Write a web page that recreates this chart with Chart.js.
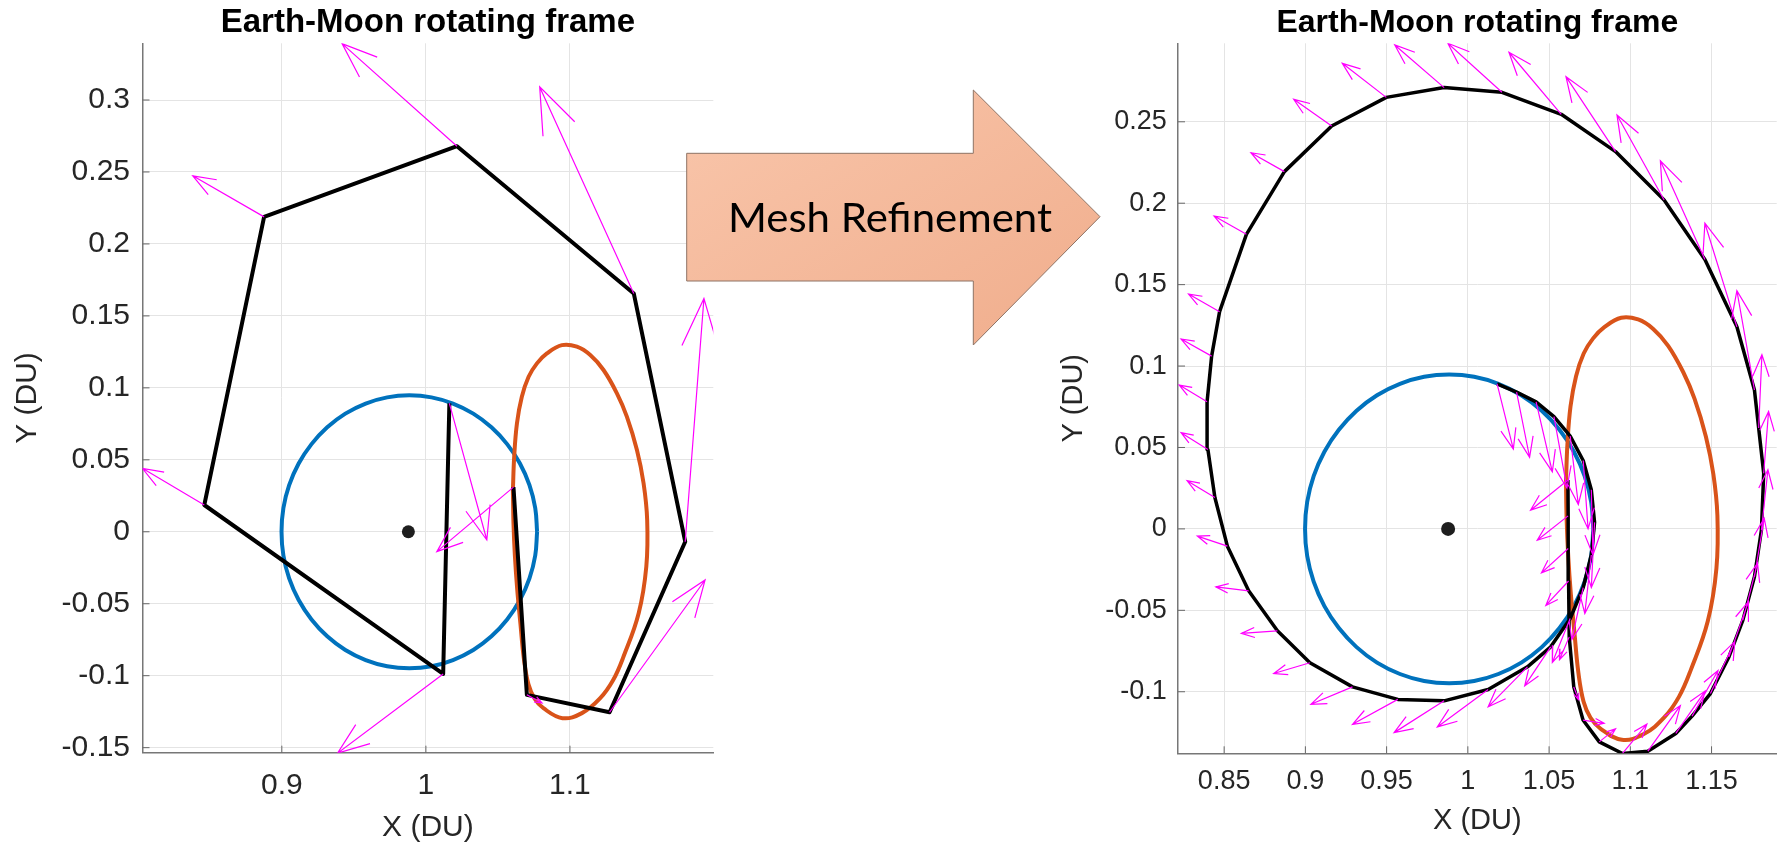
<!DOCTYPE html>
<html>
<head>
<meta charset="utf-8">
<script src="https://cdn.jsdelivr.net/npm/chart.js@4.4.1/dist/chart.umd.min.js"></script>
<style>
  html, body { margin: 0; padding: 0; background: #fff; }
  #wrap { position: relative; width: 1785px; height: 844px; overflow: hidden; }
  #c1 { position: absolute; left: 0; top: 0; }
  #c2 { position: absolute; left: 1040px; top: 0; }
  #arrow { position: absolute; left: 0; top: 0; pointer-events: none; }
</style>
</head>
<body>
<div id="wrap">
  <canvas id="c1" width="730" height="844"></canvas>
  <canvas id="c2" width="745" height="844"></canvas>
  <svg id="arrow" width="1785" height="844">
    <defs>
      <linearGradient id="g" x1="0" y1="0" x2="1" y2="1">
        <stop offset="0" stop-color="#f9c6ab"/>
        <stop offset="1" stop-color="#f0ad8c"/>
      </linearGradient>
    </defs>
    <polygon points="686.7,153.3 973.3,153.3 973.3,90 1100,216.7 973.3,345 973.3,281 686.7,281"
             fill="url(#g)" stroke="#8e7365" stroke-width="1"/>
    <text x="890" y="231.7" text-anchor="middle" font-family="Lato, 'Open Sans', sans-serif"
          font-size="40" textLength="324" lengthAdjust="spacingAndGlyphs" fill="#000">Mesh Refinement</text>
  </svg>
</div>
<script>
Chart.defaults.font.family = "'Liberation Sans', Arial, Helvetica, sans-serif";
Chart.defaults.color = '#262626';

// Moon
const moonX = [0.98785];
const moonY = [0];

// DRO around the Moon (blue)
const droX = [1.0772, 1.0759, 1.0719, 1.0653, 1.0564, 1.0455, 1.0329, 1.0188, 1.0039, 0.9885,
              0.9731, 0.9582, 0.9441, 0.9315, 0.9206, 0.9117, 0.9051, 0.9011, 0.8998, 0.9011,
              0.9051, 0.9117, 0.9206, 0.9315, 0.9441, 0.9582, 0.9731, 0.9885, 1.0039, 1.0188,
              1.0329, 1.0455, 1.0564, 1.0653, 1.0719, 1.0759, 1.0772];
const droY = [0, 0.0165, 0.0324, 0.0474, 0.0609, 0.0726, 0.0821, 0.0891, 0.0934, 0.0948,
              0.0934, 0.0891, 0.0821, 0.0726, 0.0609, 0.0474, 0.0324, 0.0165, 0, -0.0165,
              -0.0324, -0.0474, -0.0609, -0.0726, -0.0821, -0.0891, -0.0934, -0.0948, -0.0934, -0.0891,
              -0.0821, -0.0726, -0.0609, -0.0474, -0.0324, -0.0165, 0];

// target orbit (orange)
const haloX = [1.0604, 1.0608, 1.0618, 1.0634, 1.0656, 1.0680, 1.0712, 1.0755, 1.0816, 1.0948,
               1.1083, 1.1210, 1.1300, 1.1372, 1.1477, 1.1530, 1.1536, 1.1511, 1.1465, 1.1395,
               1.1326, 1.1233, 1.1141, 1.1048, 1.0944, 1.0840, 1.0771, 1.0713, 1.0666, 1.0632,
               1.0613, 1.0604];
const haloY = [0.0290, 0.0060, -0.0170, -0.0400, -0.0636, -0.0880, -0.1060, -0.1160, -0.1226, -0.1295,
               -0.1260, -0.1156, -0.1030, -0.0867, -0.0566, -0.0242, 0.0082, 0.0337, 0.0568, 0.0800,
               0.0962, 0.1124, 0.1228, 0.1286, 0.1297, 0.1239, 0.1170, 0.1077, 0.0938, 0.0753,
               0.0522, 0.0290];

// coarse mesh: nodes and vectors
const coarseX = [1.0163, 1.0120, 0.8462, 0.8877, 1.0216, 1.1443, 1.1800, 1.1275, 1.0701, 1.0608];
const coarseY = [0.0892, -0.0988, 0.0186, 0.2188, 0.2679, 0.1656, -0.0069, -0.1254, -0.1133, 0.0310];
const coarseU = [0.0260, -0.0733, -0.0430, -0.0495, -0.0798, -0.0653, 0.0130, 0.0663, 0.0105, -0.0532];
const coarseV = [-0.0949, -0.0550, 0.0255, 0.0285, 0.0713, 0.1435, 0.1690, 0.0919, -0.0057, -0.0448];

// refined mesh: nodes and vectors
const fineX = [1.0180, 1.0300, 1.0420, 1.0530, 1.0630, 1.0710, 1.0760, 1.0780, 1.0760, 1.0710,
               1.0630, 1.0510, 1.0367, 1.0125, 0.9854, 0.9569, 0.9290, 0.9028, 0.8828, 0.8651,
               0.8520, 0.8443, 0.8400, 0.8395, 0.8423, 0.8472, 0.8637, 0.8871, 0.9162, 0.9498,
               0.9854, 1.0210, 1.0575, 1.0909, 1.1208, 1.1459, 1.1656, 1.1764, 1.1790, 1.1821,
               1.1807, 1.1764, 1.1693, 1.1607, 1.1493, 1.1380, 1.1280, 1.1108, 1.0952, 1.0809,
               1.0709, 1.0652, 1.0624, 1.0620, 1.0618, 1.0617, 1.0616];
const fineY = [0.0890, 0.0840, 0.0780, 0.0690, 0.0570, 0.0420, 0.0240, 0.0040, -0.0160, -0.0360,
               -0.0550, -0.0724, -0.0847, -0.0986, -0.1056, -0.1047, -0.0970, -0.0822, -0.0626, -0.0380,
               -0.0106, 0.0193, 0.0488, 0.0781, 0.1061, 0.1334, 0.1809, 0.2194, 0.2474, 0.2650,
               0.2710, 0.2681, 0.2546, 0.2317, 0.2020, 0.1655, 0.1241, 0.0853, 0.0620, 0.0341,
               -0.0007, -0.0294, -0.0560, -0.0786, -0.1011, -0.1150, -0.1256, -0.1365, -0.1379, -0.1308,
               -0.1174, -0.0970, -0.0663, -0.0320, -0.0120, 0.0080, 0.0300];
const fineU = [0.0100, 0.0080, 0.0100, 0.0080, 0.0050, 0.0030, 0.0010, -0.0020, -0.0040, -0.0070,
               -0.0110, -0.0160, -0.0242, -0.0313, -0.0308, -0.0279, -0.0256, -0.0223, -0.0222, -0.0202,
               -0.0185, -0.0171, -0.0165, -0.0171, -0.0188, -0.0191, -0.0199, -0.0206, -0.0234, -0.0271,
               -0.0304, -0.0333, -0.0322, -0.0305, -0.0290, -0.0274, -0.0197, -0.0108, 0.0020, 0.0030,
               0.0040, 0.0060, 0.0090, 0.0120, 0.0150, 0.0160, 0.0180, 0.0200, 0.0150, 0.0100,
               0.0130, 0.0030, -0.0060, -0.0140, -0.0165, -0.0190, -0.0230];
const fineV = [-0.0400, -0.0400, -0.0430, -0.0440, -0.0420, -0.0420, -0.0400, -0.0400, -0.0360, -0.0320,
               -0.0270, -0.0240, -0.0246, -0.0230, -0.0195, -0.0153, -0.0107, -0.0066, -0.0016, 0.0024,
               0.0062, 0.0103, 0.0103, 0.0102, 0.0105, 0.0108, 0.0112, 0.0116, 0.0164, 0.0209,
               0.0262, 0.0301, 0.0381, 0.0460, 0.0522, 0.0606, 0.0636, 0.0610, 0.0450, 0.0380,
               0.0370, 0.0360, 0.0350, 0.0340, 0.0320, 0.0280, 0.0260, 0.0280, 0.0180, 0.0080,
               -0.0020, -0.0080, -0.0140, -0.0150, -0.0150, -0.0150, -0.0185];

// axis limits and ticks
const leftXLim = [0.8033, 1.1995];
const leftYLim = [-0.1535, 0.3394];
const leftXTicks = [0.9, 1, 1.1];
const leftYTicks = [-0.15, -0.1, -0.05, 0, 0.05, 0.1, 0.15, 0.2, 0.25, 0.3];
const rightXLim = [0.8216, 1.1901];
const rightYLim = [-0.1378, 0.2982];
const rightXTicks = [0.85, 0.9, 0.95, 1, 1.05, 1.1, 1.15];
const rightYTicks = [-0.1, -0.05, 0, 0.05, 0.1, 0.15, 0.2, 0.25];

const titleText = 'Earth-Moon rotating frame';

const pts = (xs, ys) => xs.map((x, i) => ({x: x, y: ys[i]}));

// quiver shafts + heads, split with null points
function quiver(xs, ys, us, vs) {
  const out = [];
  for (let i = 0; i < xs.length; i++) {
    const tx = xs[i] + us[i], ty = ys[i] + vs[i];
    const L = Math.hypot(us[i], vs[i]);
    const h = 0.125 * Math.pow(L, 0.7);
    const a = Math.atan2(vs[i], us[i]) + Math.PI;
    out.push({x: xs[i], y: ys[i]}, {x: tx, y: ty}, {x: null, y: null});
    out.push({x: tx + h * Math.cos(a + 0.36), y: ty + h * Math.sin(a + 0.36)},
             {x: tx, y: ty},
             {x: tx + h * Math.cos(a - 0.36), y: ty + h * Math.sin(a - 0.36)},
             {x: null, y: null});
  }
  return out;
}

const inwardTicks = {
  id: 'inwardTicks',
  beforeDatasetsDraw(chart) {
    const {ctx, chartArea: a, scales: {x, y}} = chart;
    ctx.save();
    ctx.strokeStyle = '#666';
    ctx.lineWidth = 1;
    ctx.beginPath();
    x.ticks.forEach(t => {
      const p = x.getPixelForValue(t.value);
      ctx.moveTo(p, a.bottom); ctx.lineTo(p, a.bottom - 7);
    });
    y.ticks.forEach(t => {
      const p = y.getPixelForValue(t.value);
      ctx.moveTo(a.left, p); ctx.lineTo(a.left + 7, p);
    });
    ctx.stroke();
    ctx.restore();
  }
};

function makeChart(id, o) {
  return new Chart(document.getElementById(id), {
    type: 'scatter',
    data: {
      datasets: [
        { data: quiver(o.nx, o.ny, o.nu, o.nv), showLine: true, borderColor: '#ff00ff',
          borderWidth: 1.2, pointRadius: 0, tension: 0 },
        { data: pts(o.nx, o.ny), showLine: true, borderColor: '#000', borderWidth: o.trajWidth,
          pointRadius: 0, tension: 0, borderJoinStyle: 'round' },
        { data: pts(moonX, moonY), showLine: false, pointRadius: o.moonR,
          backgroundColor: '#1e1e1e', borderWidth: 0 },
        { data: pts(haloX, haloY), showLine: true, borderColor: '#d95319', borderWidth: 4,
          pointRadius: 0, tension: 0.4 },
        { data: pts(droX, droY), showLine: true, borderColor: '#0072bd', borderWidth: 4,
          pointRadius: 0, tension: 0.4 }
      ]
    },
    options: {
      responsive: false,
      animation: false,
      events: [],
      layout: { padding: { left: 0, right: o.padRight, top: 0, bottom: 0 } },
      plugins: {
        legend: { display: false },
        tooltip: { enabled: false },
        title: {
          display: true, text: titleText, color: '#000', fullSize: false,
          font: { size: o.titleSize, weight: 'bold' },
          padding: o.titlePad
        }
      },
      scales: {
        x: {
          type: 'linear', min: o.xLim[0], max: o.xLim[1],
          afterFit: s => { s.height = o.xHeight; },
          afterBuildTicks: s => { s.ticks = o.xTicks.map(v => ({value: v})); },
          ticks: { callback: v => String(v), font: { size: o.tickSize }, padding: o.xTickPad,
                   autoSkip: false, maxRotation: 0, includeBounds: false },
          grid: { color: '#e4e4e4', drawTicks: false },
          border: { color: '#777', width: 1.5 },
          title: { display: true, text: 'X (DU)', font: { size: o.labelSize, lineHeight: 1 },
                   padding: { top: 0, bottom: o.xLabelPad } }
        },
        y: {
          type: 'linear', min: o.yLim[0], max: o.yLim[1],
          afterFit: s => { s.width = o.yWidth; },
          afterBuildTicks: s => { s.ticks = o.yTicks.map(v => ({value: v})); },
          ticks: { callback: v => String(v), font: { size: o.tickSize }, padding: o.yTickPad,
                   autoSkip: false, includeBounds: false },
          grid: { color: '#e4e4e4', drawTicks: false },
          border: { color: '#777', width: 1.5 },
          title: { display: true, text: 'Y (DU)', font: { size: o.labelSize, lineHeight: 1 },
                   padding: { top: o.yLabelPad, bottom: 0 } }
        }
      }
    },
    plugins: [inwardTicks]
  });
}

makeChart('c1', {
  nx: coarseX, ny: coarseY, nu: coarseU, nv: coarseV,
  xLim: leftXLim, yLim: leftYLim, xTicks: leftXTicks, yTicks: leftYTicks,
  padRight: 16.7, xHeight: 91.3, yWidth: 142.5,
  titleSize: 33, titlePad: { top: 3.2, bottom: 0.5 },
  tickSize: 30, xTickPad: 15, yTickPad: 12.5,
  labelSize: 30, xLabelPad: 1.5, yLabelPad: 12.5,
  trajWidth: 4, moonR: 6.5
});

makeChart('c2', {
  nx: fineX, ny: fineY, nu: fineU, nv: fineV,
  xLim: rightXLim, yLim: rightYLim, xTicks: rightXTicks, yTicks: rightYTicks,
  padRight: 8.3, xHeight: 90.7, yWidth: 138,
  titleSize: 32, titlePad: { top: 3.8, bottom: 1.1 },
  tickSize: 27, xTickPad: 12.2, yTickPad: 11.3,
  labelSize: 29, xLabelPad: 8.7, yLabelPad: 19,
  trajWidth: 3.5, moonR: 7
});
</script>
</body>
</html>
